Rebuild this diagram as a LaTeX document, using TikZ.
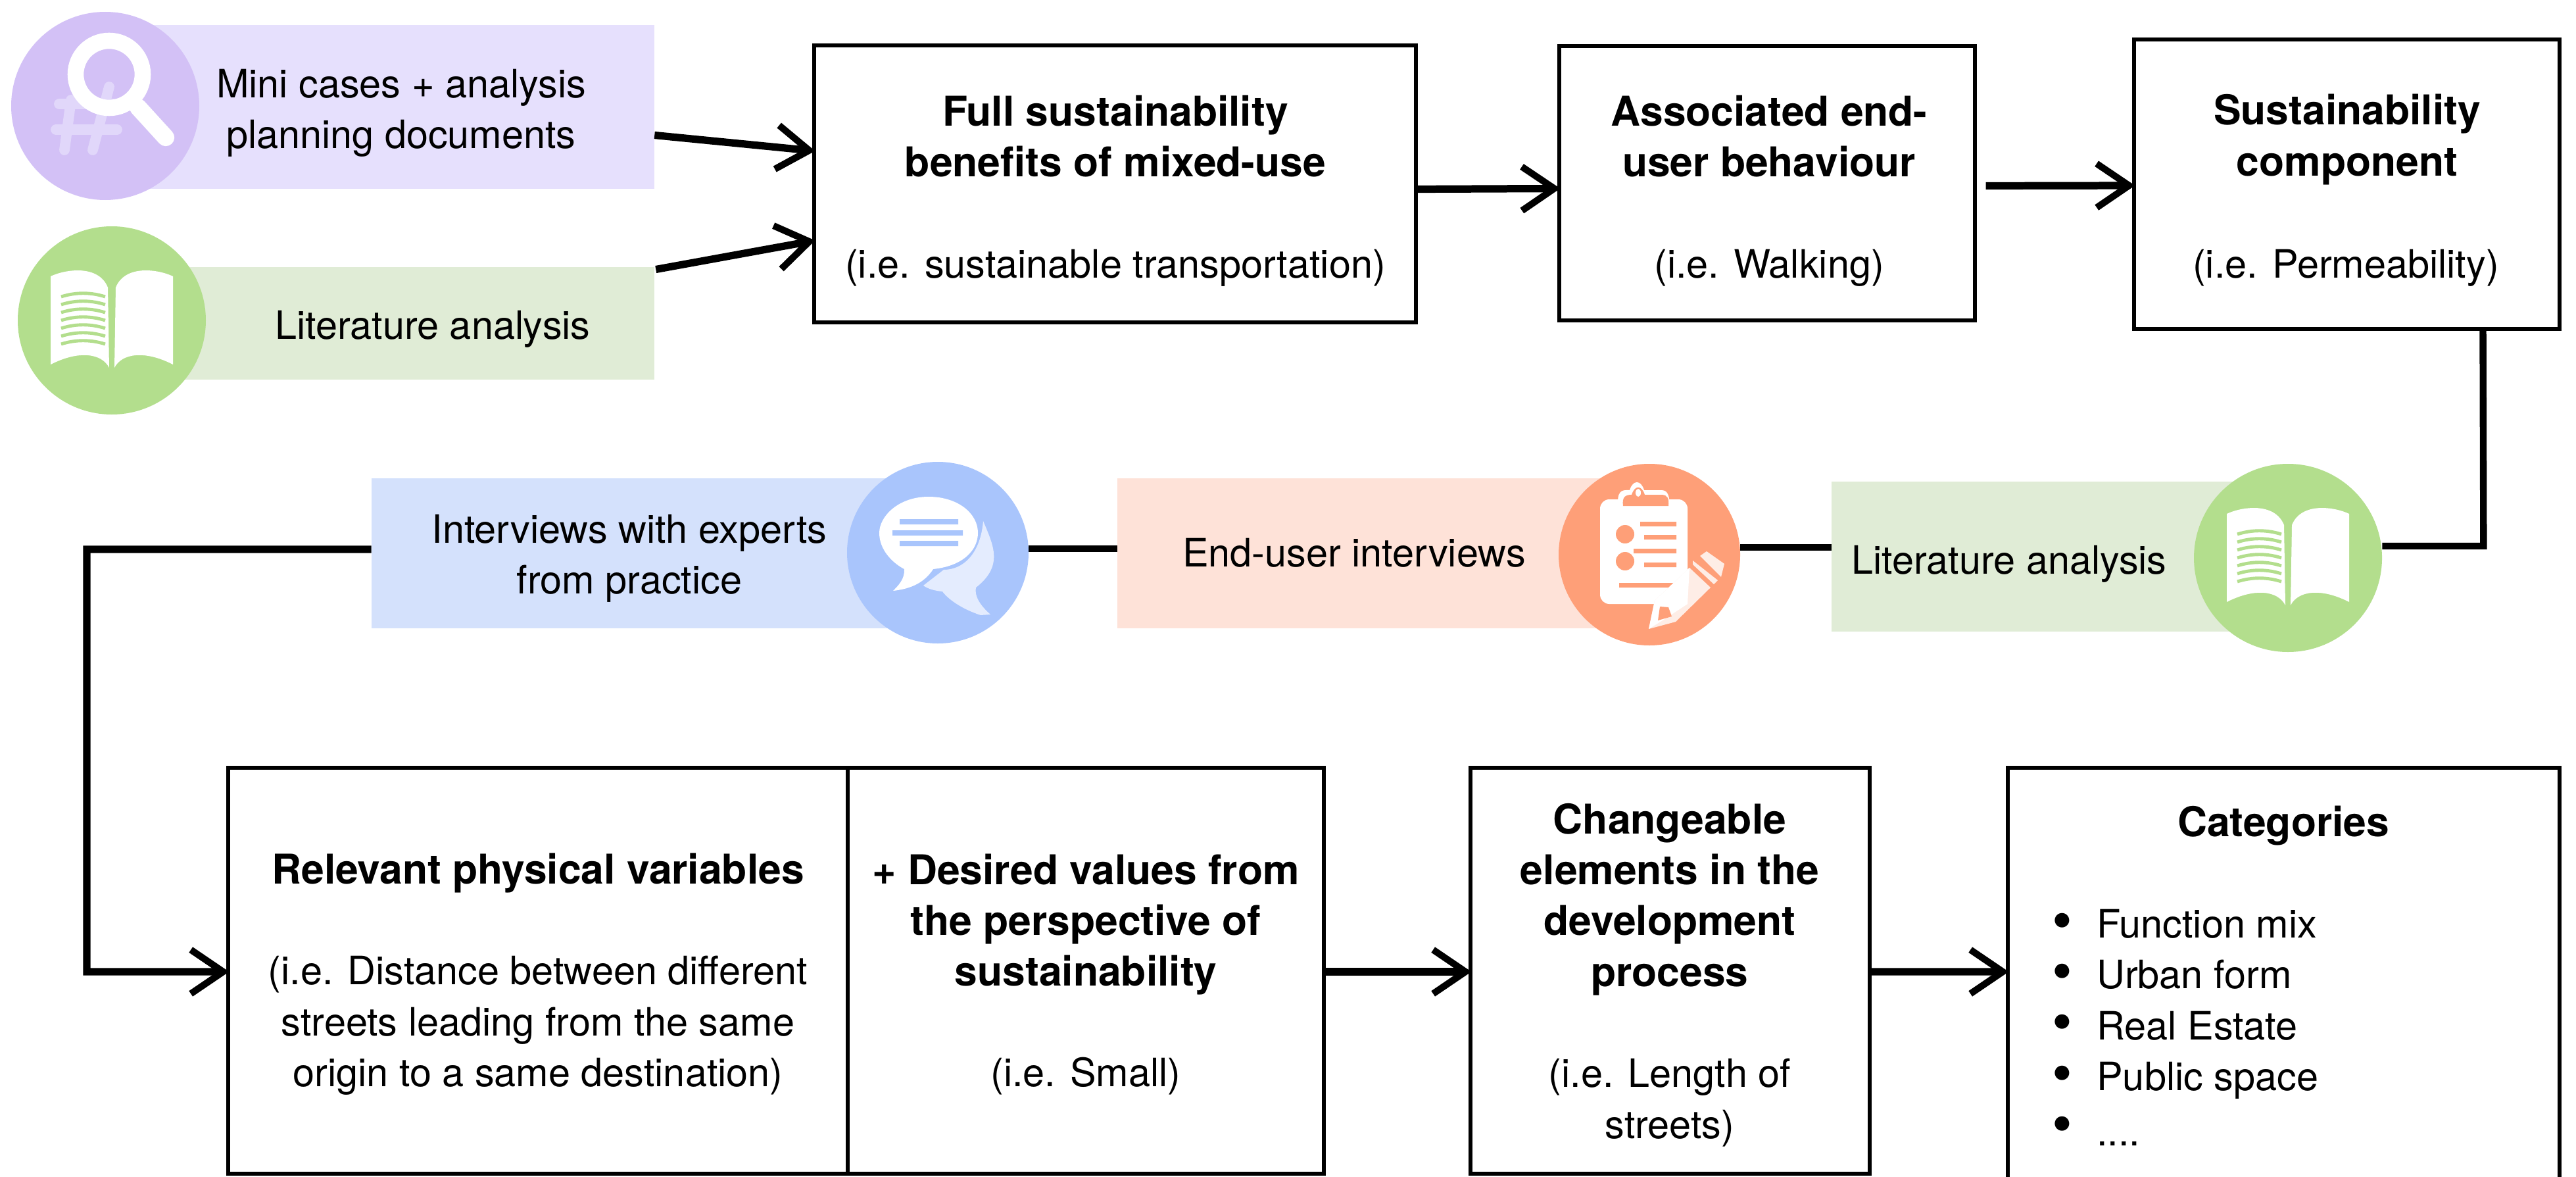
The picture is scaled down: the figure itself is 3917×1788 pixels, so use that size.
\documentclass[tikz,border=0pt]{standalone}
\usepackage{fontspec}
\setmainfont{TeX Gyre Heros}
\usetikzlibrary{arrows.meta,calc}
\definecolor{purpC}{HTML}{D3C1F6}\definecolor{purpR}{HTML}{E6E0FD}\definecolor{purpH}{HTML}{E1D7FA}
\definecolor{greenC}{HTML}{B3DE8D}\definecolor{greenR}{HTML}{E0ECD6}
\definecolor{blueC}{HTML}{A9C5FC}\definecolor{blueR}{HTML}{D4E1FC}\definecolor{blueL}{HTML}{E4ECFE}
\definecolor{salC}{HTML}{FE9F78}\definecolor{salR}{HTML}{FEE2D8}\definecolor{salL}{HTML}{FEEDE6}
\newcommand{\bul}{\makebox[38.7pt][l]{\fontsize{50}{44}\selectfont\raisebox{-2pt}{•}}}
\tikzset{
 bx/.style={draw=black,line width=3pt,fill=white,inner sep=0pt,rectangle},
 band/.style={rectangle,inner sep=0pt,draw=none},
 disc/.style={circle,inner sep=0pt,minimum size=#1*0.02cm,draw=none},
 txt/.style={inner sep=0pt,align=center,font=\fontsize{33.8}{44}\selectfont},
 ttl/.style={inner sep=0pt,align=center,font=\fontsize{35.5}{44}\selectfont\bfseries},
 lst/.style={inner sep=0pt,align=left,font=\fontsize{33.8}{44}\selectfont},
 wire/.style={line width=5.9pt,draw=black},
 arr/.style={wire,line width=6.4pt,-{Straight Barb[length=28pt,width=38pt,line width=5.8pt]}},
 book/.pic={
  \fill[white] (-93,-67) .. controls (-70,-78) and (-20,-85) .. (-6,-50) -- (-4,72) .. controls (-15,50) and (-50,45) .. (-93,67) -- cycle;
  \fill[white] (93,-67) .. controls (70,-78) and (20,-85) .. (6,-50) -- (4,72) .. controls (15,50) and (50,45) .. (93,67) -- cycle;
  \foreach \yy in {-36,-24,-12,0,12,24,36}
   \draw[greenC,line width=2.8pt] (-77,\yy) .. controls (-55,\yy-7) and (-32,\yy-7) .. (-10,\yy);
 }
}
\begin{document}
\begin{tikzpicture}[x=0.02cm,y=-0.02cm]
\useasboundingbox (0,0) rectangle (3917,1788);
% boxes
\node[bx,minimum width=18.3cm,minimum height=8.42cm] (b1) at (1695.5,279.5) {};
\node[bx,minimum width=12.64cm,minimum height=8.34cm] (b2) at (2687,278.5) {};
\node[bx,minimum width=12.94cm,minimum height=8.8cm] (b3) at (3568.5,280) {};
\node[bx,minimum width=18.84cm,minimum height=12.34cm] (b4) at (818,1475.5) {};
\node[bx,minimum width=14.48cm,minimum height=12.34cm] (b5) at (1651,1475.5) {};
\node[bx,minimum width=12.14cm,minimum height=12.34cm] (b6) at (2539.5,1475.5) {};
\node[bx,minimum width=16.78cm,minimum height=12.86cm] (b7) at (3472.5,1488.5) {};
% bands
\node[band,fill=purpR,minimum width=16.7cm,minimum height=4.98cm] (r1) at (577.5,162.5) {};
\node[band,fill=greenR,minimum width=16.5cm,minimum height=3.42cm] (r2) at (582.5,491.5) {};
\node[band,fill=blueR,minimum width=17.22cm,minimum height=4.56cm] (r3) at (995.5,841) {};
\node[band,fill=salR,minimum width=15.02cm,minimum height=4.56cm] (r4) at (2074.5,841) {};
\node[band,fill=greenR,minimum width=13.88cm,minimum height=4.56cm] (r5) at (3132,846) {};
% discs
\node[disc=286,fill=purpC] (c1) at (160,161) {};
\node[disc=286,fill=greenC] (c2) at (170,487) {};
\node[disc=276,fill=blueC] (c3) at (1426,840) {};
\node[disc=276,fill=salC] (c4) at (2508,843) {};
\node[disc=286,fill=greenC] (c5) at (3479,848) {};
% connectors
\draw[arr] ($(r1.east)+(0,43)$) -- ($(b1.west)+(4,-50)$);
\draw[arr] ($(r2.east)+(2,-82)$) -- ($(b1.west)+(4,86)$);
\draw[arr] ($(b1.east)+(0,8)$) -- ($(b2.west)+(4,8)$);
\draw[arr] ($(b2.east)+(14,4)$) -- ($(b3.west)+(4,2)$);
\draw[wire] (c5.east) ++(0,-18) -- ++(154,0) -- ($(b3.south)+(207,0)$);
\draw[wire] ($(c4.east)+(0,-11)$) -- ($(r5.west)+(0,-14)$);
\draw[wire] ($(c3.east)+(0,-6)$) -- ($(r4.west)+(0,-7)$);
\draw[arr] ($(r3.west)+(0,-6)$) -- (132,835) -- (132,1477) -- ($(b4.west)+(4,1.5)$);
\draw[arr] ($(b5.east)+(0,1.5)$) -- ($(b6.west)+(4,1.5)$);
\draw[arr] ($(b6.east)+(0,1.5)$) -- ($(b7.west)+(4,-11.5)$);
% icon: magnifier
\begin{scope}[shift={(c1.center)}]
 \draw[purpH,line width=9pt,line cap=round] (6,-29) -- (-19,67) (-52,-9) -- (-62,67) (-70,-3) -- (12,-3) (-75,36) -- (18,36);
 \draw[white,line width=14pt] (6,-48) circle (51);
 \draw[white,line width=15pt,line cap=round] (50,2) -- (92,48);
\end{scope}
\pic at (c2.center) {book};
\pic at (c5.center) {book};
% icon: speech bubbles
\begin{scope}[shift={(c3.center)}]
 \fill[blueL] (69,-48) .. controls (85,-10) and (100,20) .. (58,53) .. controls (55,70) and (70,85) .. (80,94) -- (65,95) .. controls (35,85) and (15,70) .. (7,59) .. controls (-5,58) and (-15,55) .. (-22,50) -- (9,26) .. controls (40,26) and (65,0) .. (69,-48) -- cycle;
 \fill[white] (-14,-85) .. controls (-60,-85) and (-89,-55) .. (-89,-30) .. controls (-89,-5) and (-70,15) .. (-51,25) .. controls (-50,40) and (-60,50) .. (-68,58) .. controls (-40,55) and (-20,45) .. (-7,25) .. controls (40,20) and (61,-5) .. (61,-30) .. controls (61,-60) and (30,-85) .. (-14,-85) -- cycle;
 \fill[blueC] (-58,-51) rectangle (31,-43) (-69,-34) rectangle (38,-26) (-58,-18) rectangle (31,-10);
\end{scope}
% icon: clipboard
\begin{scope}[shift={(c4.center)}]
 \fill[white,rounded corners=8] (-75,-84) rectangle (58,75);
 \fill[white] (-48,-80) .. controls (-48,-100) and (-38,-98) .. (-30,-98) .. controls (-25,-114) and (-13,-114) .. (-8,-98) -- (18,-98) .. controls (28,-98) and (31,-90) .. (31,-70) -- (-48,-70) -- cycle;
 \fill[salC] (-40,-74) .. controls (-42,-88) and (-36,-91) .. (-27,-91) .. controls (-22,-106) and (-12,-106) .. (-7,-91) -- (18,-91) .. controls (28,-91) and (30,-85) .. (29,-74) -- cycle;
 \fill[white] (-17,-94) ellipse (4 and 6);
 \fill[salC] (-14,-50) rectangle (41,-43) (-8,-30) rectangle (41,-23) (-24,-9) rectangle (41,-2) (-8,12) rectangle (41,19) (-46,43) rectangle (41,50);
 \fill[salC] (-37,-31) circle (14) (-37,10) circle (14);
 \fill[salL] (-1,113) -- (8,70) -- (61,20) -- (93,50) -- (40,102) -- cycle;
 \fill[white] (-1,113) -- (8,70) -- (61,20) -- (58,75) -- (20,100) -- cycle;
 \fill[salC] (16,79) -- (29,80) -- (34,94) -- (13,100) -- cycle;
 \fill[salL] (66,9) -- (104,39) -- (98,45) -- (66,15) -- cycle;
 \fill[salL] (87,-5) -- (114,14) -- (109,34) -- (77,2) -- cycle;
\end{scope}
% texts
\node[txt] (t1) at (610,172) {Mini cases + analysis\\planning documents};
\node[txt] (t2) at (658,500) {Literature analysis};
\node[txt] (t3) at (957,849) {Interviews with experts\\from practice};
\node[txt] (t4) at (2059,840) {End-user interviews};
\node[txt] (t5) at (3055,857) {Literature analysis};
\node[ttl] (a1) at (1696,207) {Full sustainability\\benefits of mixed-use};
\node[txt] (a2) at (1696,407) {(i.e. sustainable transportation)};
\node[ttl] (a3) at (2690,207) {Associated end-\\user behaviour};
\node[txt] (a4) at (2690,407) {(i.e. Walking)};
\node[ttl] (a5) at (3569,212) {Sustainability\\component};
\node[txt] (a6) at (3567,407) {(i.e. Permeability)};
\node[ttl] (a7) at (818,1327) {Relevant physical variables};
\node[txt] (a8) at (818,1559) {(i.e. Distance between different\\streets leading from the same\\origin to a same destination)};
\node[ttl] (a9) at (1651,1405) {+ Desired values from\\the perspective of\\sustainability};
\node[txt] (a10) at (1651,1636) {(i.e. Small)};
\node[ttl] (a11) at (2539,1367) {Changeable\\elements in the\\development\\process};
\node[txt] (a12) at (2539,1676) {(i.e. Length of\\streets)};
\node[ttl] (a13) at (3472,1255) {Categories};
\node[lst,anchor=north west] (a14) at (3120,1382) {\bul Function mix\\\bul Urban form\\\bul Real Estate\\\bul Public space\\\bul\raisebox{-4pt}{....}};
\end{tikzpicture}
\end{document}
